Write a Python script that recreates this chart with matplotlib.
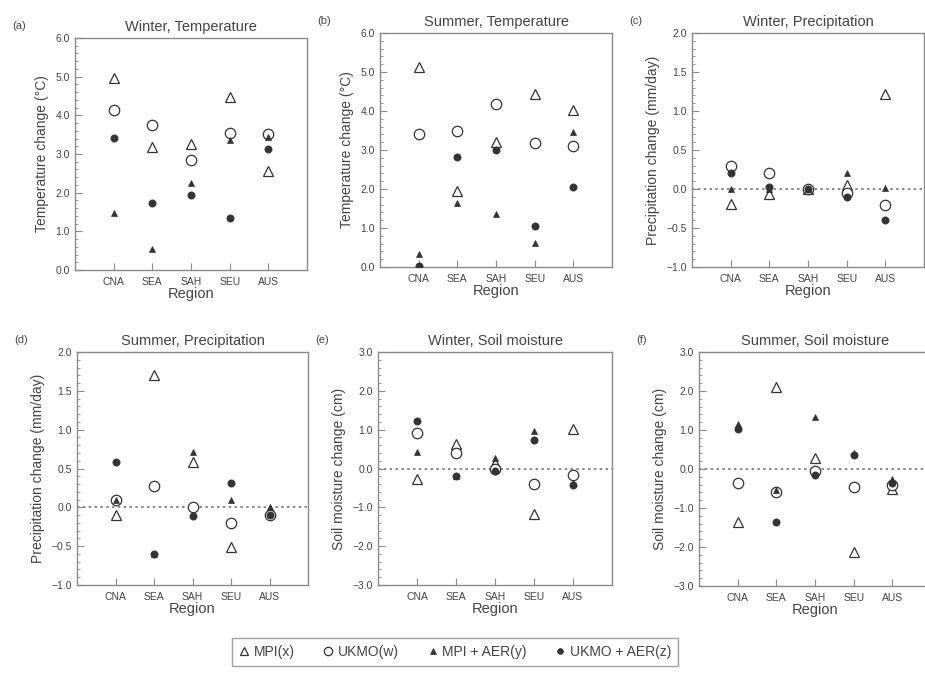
import matplotlib
matplotlib.use("Agg")
import matplotlib.pyplot as plt
from matplotlib.ticker import MultipleLocator, FuncFormatter
from matplotlib.lines import Line2D

plt.rcParams['font.family'] = ['Liberation Sans', 'DejaVu Sans']
plt.rcParams['axes.unicode_minus'] = True

regions = ["CNA", "SEA", "SAH", "SEU", "AUS"]
series_labels = ["MPI(x)", "UKMO(w)", "MPI + AER(y)", "UKMO + AER(z)"]

# (a) Winter, Temperature
wt_mpi      = [4.97, 3.17, 3.26, 4.47, 2.55]
wt_ukmo     = [4.13, 3.74, 2.84, 3.54, 3.52]
wt_mpi_aer  = [1.47, 0.54, 2.25, 3.37, 3.45]
wt_ukmo_aer = [3.42, 1.74, 1.94, 1.34, 3.13]
# (b) Summer, Temperature
st_mpi      = [5.13, 1.95, 3.21, 4.43, 4.03]
st_ukmo     = [3.40, 3.50, 4.18, 3.19, 3.11]
st_mpi_aer  = [0.34, 1.65, 1.35, 0.62, 3.45]
st_ukmo_aer = [0.03, 2.81, 3.00, 1.05, 2.04]
# (c) Winter, Precipitation
wp_mpi      = [-0.19, -0.07, 0.00, 0.05, 1.22]
wp_ukmo     = [0.30, 0.20, 0.00, -0.05, -0.20]
wp_mpi_aer  = [0.00, 0.00, 0.00, 0.21, 0.01]
wp_ukmo_aer = [0.20, 0.02, 0.00, -0.10, -0.40]
# (d) Summer, Precipitation
sp_mpi      = [-0.10, 1.70, 0.59, -0.51, -0.04]
sp_ukmo     = [0.10, 0.28, 0.00, -0.20, -0.10]
sp_mpi_aer  = [0.10, -0.60, 0.71, 0.09, 0.01]
sp_ukmo_aer = [0.59, -0.60, -0.11, 0.31, -0.10]
# (e) Winter, Soil moisture
ws_mpi      = [-0.26, 0.62, 0.13, -1.16, 1.03]
ws_ukmo     = [0.92, 0.40, 0.00, -0.41, -0.17]
ws_mpi_aer  = [0.43, -0.20, 0.26, 0.97, -0.38]
ws_ukmo_aer = [1.22, -0.20, -0.06, 0.74, -0.42]
# (f) Summer, Soil moisture
ss_mpi      = [-1.35, 2.10, 0.27, -2.13, -0.50]
ss_ukmo     = [-0.35, -0.58, -0.05, -0.46, -0.40]
ss_mpi_aer  = [1.16, -0.55, 1.34, 0.42, -0.25]
ss_ukmo_aer = [1.02, -1.37, -0.16, 0.36, -0.35]

panels = [
    ("(a)", "Winter, Temperature", "Temperature change (°C)", (0, 6), 1.0, 0.2,
     [wt_mpi, wt_ukmo, wt_mpi_aer, wt_ukmo_aer], False),
    ("(b)", "Summer, Temperature", "Temperature change (°C)", (0, 6), 1.0, 0.2,
     [st_mpi, st_ukmo, st_mpi_aer, st_ukmo_aer], False),
    ("(c)", "Winter, Precipitation", "Precipitation change (mm/day)", (-1, 2), 0.5, 0.1,
     [wp_mpi, wp_ukmo, wp_mpi_aer, wp_ukmo_aer], True),
    ("(d)", "Summer, Precipitation", "Precipitation change (mm/day)", (-1, 2), 0.5, 0.1,
     [sp_mpi, sp_ukmo, sp_mpi_aer, sp_ukmo_aer], True),
    ("(e)", "Winter, Soil moisture", "Soil moisture change (cm)", (-3, 3), 1.0, 0.2,
     [ws_mpi, ws_ukmo, ws_mpi_aer, ws_ukmo_aer], True),
    ("(f)", "Summer, Soil moisture", "Soil moisture change (cm)", (-3, 3), 1.0, 0.2,
     [ss_mpi, ss_ukmo, ss_mpi_aer, ss_ukmo_aer], True),
]

W, H = 925, 674
# axes boxes in pixels: left, right, top, bottom
boxes = [
    (75, 307, 38, 270),
    (380, 612, 33, 267),
    (692, 924, 33, 267),
    (77, 308, 352, 585),
    (378, 612, 352, 585),
    (699, 931, 352, 586),
]

ink = "#333333"
txt = "#444444"
spine = "#8a8a8a"

marker_styles = [
    dict(marker="^", ms=7.0, mfc="white", mec=ink, mew=0.9),
    dict(marker="o", ms=7.5, mfc="white", mec=ink, mew=0.9),
    dict(marker="^", ms=5.0, mfc=ink, mec=ink, mew=0.5),
    dict(marker="o", ms=5.2, mfc=ink, mec=ink, mew=0.5),
]

fmt = FuncFormatter(lambda v, p: ("%.1f" % v).replace("-", "\u2212"))

fig = plt.figure(figsize=(W / 100, H / 100), dpi=100)

xpos = list(range(1, len(regions) + 1))
for (lab, title, ylab, ylim, maj, mnr, data, zero), (l, r, t, b) in zip(panels, boxes):
    ax = fig.add_axes([l / W, 1 - b / H, (r - l) / W, (b - t) / H])
    if zero:
        ax.axhline(0, color="#777777", lw=1.2, ls=(0, (1.5, 2)), zorder=1)
    for vals, st in zip(data, marker_styles):
        ax.plot(xpos, vals, ls="none", zorder=3, **st)
    ax.set_xlim(0, 6)
    ax.set_ylim(*ylim)
    ax.set_xticks(xpos)
    ax.set_xticklabels(regions)
    ax.yaxis.set_major_locator(MultipleLocator(maj))
    ax.yaxis.set_minor_locator(MultipleLocator(mnr))
    ax.yaxis.set_major_formatter(fmt)
    ax.tick_params(axis="both", which="both", direction="in", colors=spine,
                   labelcolor=txt, labelsize=7.5)
    ax.tick_params(axis="y", which="major", length=5, width=0.8)
    ax.tick_params(axis="y", which="minor", length=2.5, width=0.6)
    ax.tick_params(axis="x", which="major", length=5, width=0.8, pad=5)
    for s in ax.spines.values():
        s.set_color(spine)
        s.set_linewidth(1.0)
    ax.set_title(title, fontsize=10.5, color=txt, pad=5)
    ax.set_ylabel(ylab, fontsize=10, color=txt, labelpad=5)
    ax.set_xlabel("Region", fontsize=10.5, color=txt, labelpad=0)
    ax.text(-0.27, 1.05, lab, transform=ax.transAxes, fontsize=8, color=txt,
            ha="left", va="center")

handles = [Line2D([], [], ls="none", **dict(st, ms=st["ms"] * 0.8)) for st in marker_styles]
leg = fig.legend(handles, series_labels, loc="center", bbox_to_anchor=(455 / W, 1 - 652 / H),
                 ncol=4, frameon=True, fancybox=False, fontsize=10, handlelength=0.8,
                 handletextpad=0.3, columnspacing=2.0, borderpad=0.5, borderaxespad=0)
leg.get_frame().set_edgecolor(spine)
leg.get_frame().set_linewidth(1.0)
for t_ in leg.get_texts():
    t_.set_color(txt)

fig.savefig("out.png", dpi=100, facecolor="white")
